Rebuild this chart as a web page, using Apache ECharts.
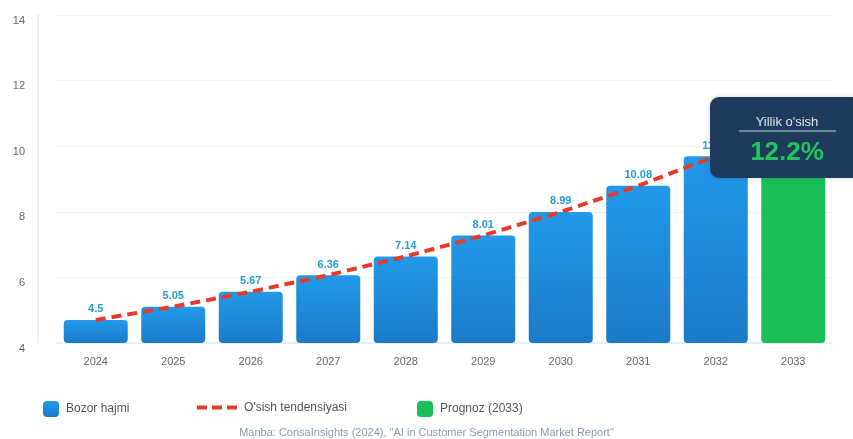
<!DOCTYPE html>
<html><head><meta charset="utf-8">
<script src="https://cdn.jsdelivr.net/npm/echarts@6/dist/echarts.min.js"></script>
<style>html,body{margin:0;padding:0;background:#fff}#c{width:853px;height:439px}</style>
</head><body><div id="c"></div>
<script>
const years = ['2024','2025','2026','2027','2028','2029','2030','2031','2032','2033'];
const marketValues = [4.5, 5.05, 5.67, 6.36, 7.14, 8.01, 8.99, 10.08, 11.31, 12.69];
const forecastIndex = 9;
const yTicks = {min: 4, max: 14, interval: 2};
const growthLabel = "Yillik o'sish";
const growthValue = '12.2%';
const sourceText = 'Manba: ConsaInsights (2024), "AI in Customer Segmentation Market Report"';

const blueVals = marketValues.map((v,i)=> i===forecastIndex ? '-' : v);
const greenVals = marketValues.map((v,i)=> i===forecastIndex ? v : '-');
const font = 'Liberation Sans, Arial, sans-serif';
const lbl = {show:true, position:'top', distance:5, color:'#2a9bd5', fontWeight:'bold', fontSize:11, fontFamily:font};
const legText = {color:'#555', fontSize:12, fontFamily:font, padding:[0,0,0,2]};

const chart = echarts.init(document.getElementById('c'), null, {renderer:'canvas'});
chart.setOption({
  animation:false,
  grid:{left:57, right:21, top:15, bottom:96, containLabel:false},
  xAxis:{type:'category', data:years, boundaryGap:true,
    axisLine:{show:true, lineStyle:{color:'#e8eff5', width:2}},
    axisTick:{show:false},
    axisLabel:{color:'#666', fontSize:11, margin:13, fontFamily:font}},
  yAxis:[
    {type:'value', min:yTicks.min, max:yTicks.max, interval:yTicks.interval, offset:19,
     axisLine:{show:true, lineStyle:{color:'#e8eff5', width:2}},
     axisTick:{show:false},
     axisLabel:{color:'#666', fontSize:11, margin:13, fontFamily:font, verticalAlign:'top'},
     splitLine:{show:true, lineStyle:{color:'#eef3f8', width:1}}},
    {type:'value', min:3.54, max:17.18, show:false, splitLine:{show:false}}
  ],
  legend:[
    {left:38, top:396, itemWidth:16, itemHeight:16, itemGap:0, textStyle:legText,
     data:[{name:'Bozor hajmi', icon:'roundRect'}]},
    {left:190, top:396, itemWidth:40, itemHeight:16, textStyle:legText,
     data:[{name:"O'sish tendensiyasi", itemStyle:{opacity:0}, lineStyle:{color:'#e53a2c', width:4, type:[10,5]}}]},
    {left:412, top:396, itemWidth:16, itemHeight:16, textStyle:legText,
     data:[{name:'Prognoz (2033)', icon:'roundRect'}]}
  ],
  series:[
    {name:'Bozor hajmi', type:'bar', yAxisIndex:1, stack:'m', barWidth:64, data:blueVals,
     itemStyle:{borderRadius:4, color:new echarts.graphic.LinearGradient(0,0,0,1,[{offset:0,color:'#2299ea'},{offset:1,color:'#1a7bc8'}])},
     label:lbl},
    {name:'Prognoz (2033)', type:'bar', yAxisIndex:1, stack:'m', barWidth:64, data:greenVals,
     itemStyle:{borderRadius:4, color:'#1bbf5a'},
     label:Object.assign({}, lbl, {color:'#1bbf5a'})},
    {name:"O'sish tendensiyasi", type:'line', yAxisIndex:1, data:marketValues, symbol:'none', z:5,
     itemStyle:{color:'#e53a2c'},
     lineStyle:{color:'#e53a2c', width:4, type:[10,6]}}
  ],
  graphic:[
    {type:'rect', left:710, top:97, z:100, zlevel:1, shape:{width:160,height:81,r:9}, style:{fill:'#1e3a5c', shadowBlur:6, shadowColor:'rgba(0,0,0,0.15)'}},
    {type:'text', x:787, y:122, z:101, zlevel:1, style:{text:growthLabel, fill:'#dfe7f0', font:'13px '+font, textAlign:'center', textVerticalAlign:'middle'}},
    {type:'line', z:101, zlevel:1, shape:{x1:739, y1:131, x2:836, y2:131}, style:{stroke:'#c9d3de', lineWidth:1}},
    {type:'text', x:787, y:153, z:101, zlevel:1, style:{text:growthValue, fill:'#22c55e', font:'bold 26px '+font, textAlign:'center', textVerticalAlign:'middle'}},
    {type:'text', left:'center', top:427, style:{text:sourceText, fill:'#8a9ab0', font:'11px '+font}}
  ]
});
</script></body></html>
